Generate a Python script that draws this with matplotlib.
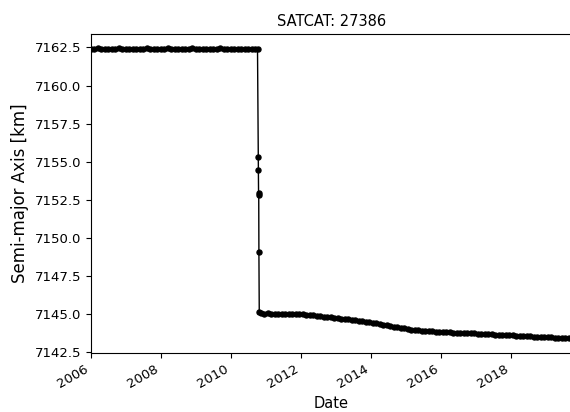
import datetime as dt
import numpy as np
import matplotlib
matplotlib.use("Agg")
import matplotlib.pyplot as plt
from matplotlib.transforms import Bbox

plt.rcParams["savefig.bbox"] = "standard"

satcat = 27386

# semi-major axis history [km]; epochs in decimal years
upper_start, upper_step = 2006.0, 0.1
upper_sma = [7162.42, 7162.39, 7162.43, 7162.40, 7162.38, 7162.42, 7162.41, 7162.39, 7162.43, 7162.40,
             7162.42, 7162.40, 7162.38, 7162.42, 7162.41, 7162.39, 7162.43, 7162.40, 7162.38, 7162.42,
             7162.41, 7162.39, 7162.43, 7162.38, 7162.42, 7162.40, 7162.42, 7162.39, 7162.41, 7162.43,
             7162.38, 7162.42, 7162.40, 7162.39, 7162.42, 7162.38, 7162.41, 7162.43, 7162.39, 7162.42,
             7162.40, 7162.38, 7162.42, 7162.41, 7162.39, 7162.42, 7162.40, 7162.38]

# orbit lowering manoeuvre
drop_epochs = [2010.76, 2010.78, 2010.785, 2010.79, 2010.795, 2010.80, 2010.81]
drop_sma = [7162.38, 7155.30, 7154.43, 7152.95, 7152.82, 7149.07, 7145.13]

lower_start, lower_step = 2010.85, 0.1
lower_sma = [7145.06, 7145.03, 7145.04, 7145.01, 7145.02, 7145.00, 7145.01, 7144.99, 7145.00, 7144.98,
             7144.99, 7144.97, 7144.98, 7144.96,
             7144.94, 7144.92, 7144.89, 7144.86, 7144.83, 7144.80, 7144.77, 7144.74, 7144.71, 7144.69,
             7144.66, 7144.64, 7144.62,
             7144.58, 7144.56, 7144.53, 7144.50, 7144.46, 7144.43, 7144.38, 7144.34, 7144.30, 7144.26,
             7144.21, 7144.17, 7144.13, 7144.09, 7144.05,
             7144.01, 7143.98, 7143.95, 7143.93, 7143.91, 7143.89, 7143.87, 7143.86, 7143.84, 7143.83,
             7143.82, 7143.81, 7143.80, 7143.78, 7143.77, 7143.76, 7143.75, 7143.74, 7143.73, 7143.72,
             7143.71, 7143.70, 7143.69, 7143.68, 7143.67,
             7143.65, 7143.64, 7143.63, 7143.62, 7143.61, 7143.59, 7143.58, 7143.57, 7143.56, 7143.55,
             7143.54, 7143.52, 7143.51, 7143.50, 7143.49, 7143.48, 7143.46, 7143.45, 7143.44, 7143.43,
             7143.42, 7143.40, 7143.39]


def to_date(year):
    y = int(year)
    start = dt.datetime(y, 1, 1)
    length = dt.datetime(y + 1, 1, 1) - start
    return start + (year - y) * length


upper_epochs = upper_start + upper_step * np.arange(len(upper_sma))
lower_epochs = lower_start + lower_step * np.arange(len(lower_sma))
epochs = list(upper_epochs) + drop_epochs + list(lower_epochs)
dates = [to_date(e) for e in epochs]
sma = upper_sma + drop_sma + lower_sma

fig = plt.figure(figsize=(5.7, 4.12), dpi=100)
ax = fig.add_axes([0.1596, 0.1432, 0.8440, 0.7743])
ax.plot(dates, sma, color="k", marker="o", ms=3.6, lw=1)
ax.set_xlim(dates[0], dates[-1])
ax.spines["right"].set_visible(False)
ax.set_title("SATCAT: %d" % satcat, fontsize=10.5)
ax.set_xlabel("Date", fontsize=10.5)
ax.set_ylabel("Semi-major Axis [km]", fontsize=12)
ax.tick_params(labelsize=9.5)
for lbl in ax.get_xticklabels():
    lbl.set_rotation(30)
    lbl.set_ha("right")

# keep the canvas at the figure size, the plot area runs off the right edge
fig.savefig("out.png", dpi=100, bbox_inches=Bbox.from_bounds(0, 0, 5.7, 4.12))
